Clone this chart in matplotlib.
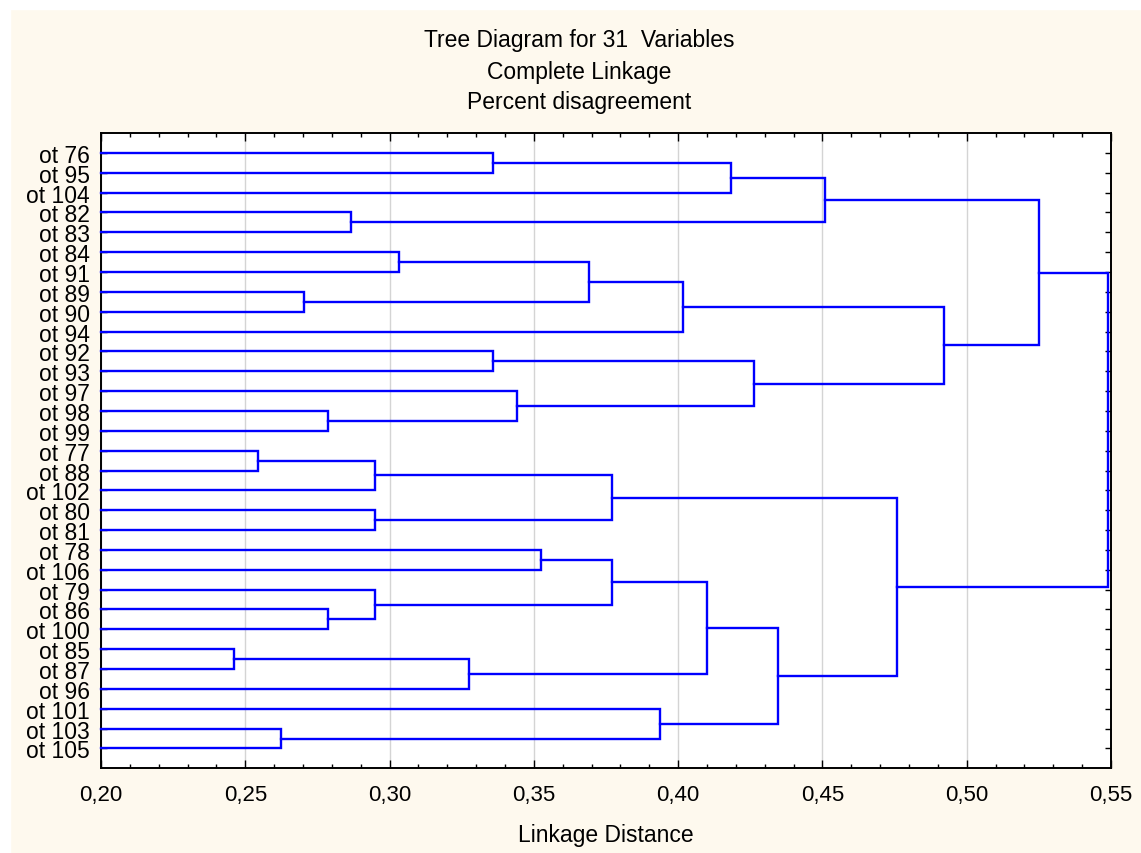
import matplotlib.pyplot as plt
from matplotlib.patches import Rectangle
from matplotlib.ticker import MultipleLocator, FuncFormatter


# -----------------------------
# Data
# -----------------------------
LEAF_LABELS = [
    "ot 76", "ot 95", "ot 104", "ot 82", "ot 83", "ot 84", "ot 91", "ot 89",
    "ot 90", "ot 94", "ot 92", "ot 93", "ot 97", "ot 98", "ot 99", "ot 77",
    "ot 88", "ot 102", "ot 80", "ot 81", "ot 78", "ot 106", "ot 79", "ot 86",
    "ot 100", "ot 85", "ot 87", "ot 96", "ot 101", "ot 103", "ot 105",
]

# linkage style: ids < 31 are leaves, merge k creates cluster 31 + k
MERGE_LEFT = [25, 15, 29, 7, 13, 23, 3, 32, 18, 22, 5, 31, 0, 10, 12,
              20, 41, 38, 46, 28, 47, 49, 43, 44, 52, 53, 48, 51, 56, 59]
MERGE_RIGHT = [26, 16, 30, 8, 14, 24, 4, 17, 19, 36, 6, 27, 1, 11, 35,
               21, 34, 39, 40, 33, 9, 42, 2, 45, 50, 37, 55, 54, 58, 57]
MERGE_HEIGHT = [0.2462, 0.2544, 0.2625, 0.2705, 0.2788, 0.2788, 0.2868,
                0.2950, 0.2950, 0.2950, 0.3031, 0.3275, 0.3358, 0.3358,
                0.3443, 0.3524, 0.3691, 0.3772, 0.3772, 0.3936, 0.4017,
                0.4099, 0.4182, 0.4263, 0.4346, 0.4509, 0.4757, 0.4920,
                0.5249, 0.5490]

TITLE_LINES = ["Tree Diagram for 31  Variables", "Complete Linkage",
               "Percent disagreement"]
X_MIN, X_MAX = 0.20, 0.55

LINE_COLOR = "#0000ff"
BG_COLOR = "#fef9ee"
FONT = "Liberation Sans"


# -----------------------------
# Plot
# -----------------------------
plt.rcParams["font.family"] = FONT

fig = plt.figure(figsize=(11.41, 8.54), dpi=100, facecolor=BG_COLOR)
fig.patches.append(Rectangle((0, 1 - 10 / 854), 1, 10 / 854,
                             transform=fig.transFigure, color="white", zorder=0))
fig.patches.append(Rectangle((0, 0), 10 / 1141, 1,
                             transform=fig.transFigure, color="white", zorder=0))

ax = fig.add_axes([101 / 1141, 1 - 769.3 / 854, 1010 / 1141, 635.3 / 854])
ax.set_facecolor("white")

n_leaves = len(LEAF_LABELS)
node_y = {i: float(i) for i in range(n_leaves)}
node_x = {i: X_MIN for i in range(n_leaves)}

for k, (a, b, h) in enumerate(zip(MERGE_LEFT, MERGE_RIGHT, MERGE_HEIGHT)):
    ya, yb = node_y[a], node_y[b]
    ax.plot([node_x[a], h, h, node_x[b]], [ya, ya, yb, yb],
            color=LINE_COLOR, lw=1.7, solid_joinstyle="miter", zorder=3,
            clip_on=False)
    node_y[n_leaves + k] = (ya + yb) / 2
    node_x[n_leaves + k] = h

ax.set_xlim(X_MIN, X_MAX)
ax.set_ylim(n_leaves, -1)

ax.xaxis.set_major_locator(MultipleLocator(0.05))
ax.xaxis.set_minor_locator(MultipleLocator(0.01))
ax.xaxis.set_major_formatter(FuncFormatter(lambda v, p: f"{v:.2f}".replace(".", ",")))
ax.set_yticks(range(n_leaves))
ax.set_yticklabels(LEAF_LABELS)

ax.tick_params(axis="x", which="major", direction="in", top=True, length=6,
               width=1, labelsize=16, pad=11, colors="black")
ax.tick_params(axis="x", which="minor", direction="in", top=True, length=3,
               width=1)
ax.tick_params(axis="y", direction="in", right=True, length=4, width=1,
               labelsize=16.5, pad=8)

ax.grid(axis="x", which="major", color="#d4d4d4", lw=1, zorder=1)
for s in ax.spines.values():
    s.set_linewidth(1.4)
    s.set_color("black")

for i, line in enumerate(TITLE_LINES):
    fig.text(579 / 1141, 1 - (41 + 31 * i) / 854, line, ha="center",
             va="center", fontsize=16.5)

fig.text(606 / 1141, 1 - 836 / 854, "Linkage Distance", ha="center",
         va="center", fontsize=16.5)

fig.savefig("out.png", dpi=100, facecolor=fig.get_facecolor())
